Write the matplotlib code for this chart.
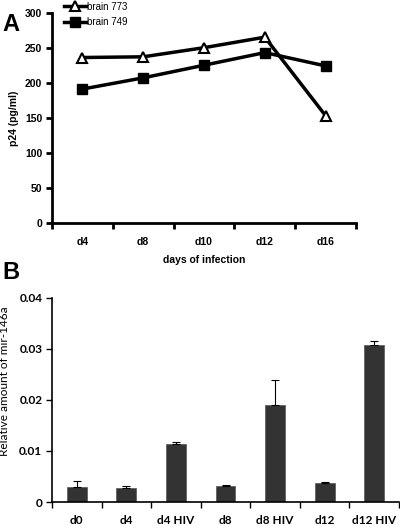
import matplotlib
matplotlib.use("Agg")
import matplotlib.pyplot as plt
import numpy as np

# Панель A: p24 по дням
days = ["d4", "d8", "d10", "d12", "d16"]
brain_773 = [236, 237, 250, 265, 153]
brain_749 = [191, 207, 225, 243, 224]

# Панель B: mir-146a
groups = ["d0", "d4", "d4 HIV", "d8", "d8 HIV", "d12", "d12 HIV"]
mir146a = [0.0030, 0.0027, 0.0114, 0.0032, 0.0190, 0.0037, 0.0307]
mir146a_err = [0.0011, 0.0004, 0.0004, 0.0001, 0.0049, 0.0002, 0.0009]

plt.rcParams['font.family'] = ['Liberation Sans', 'DejaVu Sans']
calibri_like = ['Lato', 'DejaVu Sans']

fig = plt.figure(figsize=(4.0, 5.26), dpi=100)

# ---- A ----
ax1 = fig.add_axes([0.13, 0.576, 0.76, 0.400])
x = np.arange(len(days))
ax1.plot(x, brain_773, color='black', lw=2.5, marker='^', ms=7, mfc='white',
         mec='black', mew=1.5, label='brain 773', clip_on=False)
ax1.plot(x, brain_749, color='black', lw=2.5, marker='s', ms=7, mfc='black',
         mec='black', label='brain 749', clip_on=False)
ax1.set_xlim(-0.5, len(days) - 0.5)
ax1.set_ylim(0, 300)
ax1.set_yticks(range(0, 301, 50))
ax1.set_xticks(np.arange(-0.5, len(days)), minor=False)
ax1.set_xticklabels([])
ax1.set_xticks(x, minor=True)
ax1.set_xticklabels(days, minor=True, fontweight='bold', fontsize=7.5)
ax1.tick_params(axis='x', which='minor', length=0, pad=10)
ax1.tick_params(axis='x', which='major', length=4, width=2, direction='out')
ax1.tick_params(axis='y', length=4, width=2, labelsize=7.5, pad=3)
for t in ax1.get_yticklabels():
    t.set_fontweight('bold')
for s in ['top', 'right']:
    ax1.spines[s].set_visible(False)
for s in ['left', 'bottom']:
    ax1.spines[s].set_linewidth(2)
ax1.set_xlabel('days of infection', fontweight='bold', fontsize=7.5, labelpad=6)
ax1.set_ylabel('p24 (pg/ml)', fontweight='bold', fontsize=7.5, labelpad=4)
ax1.legend(loc='upper left', bbox_to_anchor=(0.025, 1.075), frameon=False,
           fontsize=7, handlelength=2.2, handletextpad=0.1, labelspacing=0.55,
           borderpad=0)
fig.text(0.005, 0.975, 'A', fontsize=17, fontweight='bold', va='top')

# ---- B ----
ax2 = fig.add_axes([0.13, 0.0456, 0.8675, 0.388])
xb = np.arange(len(groups))
ax2.bar(xb, mir146a, width=0.4, color='#333333', edgecolor='#555555', lw=0.5,
        yerr=[np.zeros(len(groups)), mir146a_err],
        error_kw=dict(ecolor='black', elinewidth=0.8, capsize=3, capthick=0.8))
ax2.set_xlim(-0.5, len(groups) - 0.5)
ax2.set_ylim(0, 0.04)
ax2.set_yticks([0, 0.01, 0.02, 0.03, 0.04])
ax2.set_yticklabels(['0', '0.01', '0.02', '0.03', '0.04'])
ax2.set_xticks(np.arange(-0.5, len(groups)), minor=False)
ax2.set_xticklabels([])
ax2.set_xticks(xb, minor=True)
ax2.set_xticklabels(groups, minor=True, fontweight='bold', fontsize=8.5,
                    family=calibri_like)
ax2.tick_params(axis='x', which='minor', length=0, pad=9)
ax2.tick_params(axis='x', which='major', length=4, width=1, direction='out')
ax2.tick_params(axis='y', length=4, width=1, labelsize=8.5, pad=3)
for t in ax2.get_yticklabels():
    t.set_fontweight('bold')
    t.set_family(calibri_like)
for s in ['top', 'right']:
    ax2.spines[s].set_visible(False)
ax2.spines['left'].set_linewidth(1.2)
ax2.spines['bottom'].set_linewidth(1.2)
ax2.set_ylabel('Relative amount of mir-146a', fontsize=8.5, family=calibri_like)
ax2.yaxis.set_label_coords(-0.12, 0.59)
fig.text(0.005, 0.503, 'B', fontsize=17, fontweight='bold', va='top')

fig.savefig('out.png', dpi=100)
